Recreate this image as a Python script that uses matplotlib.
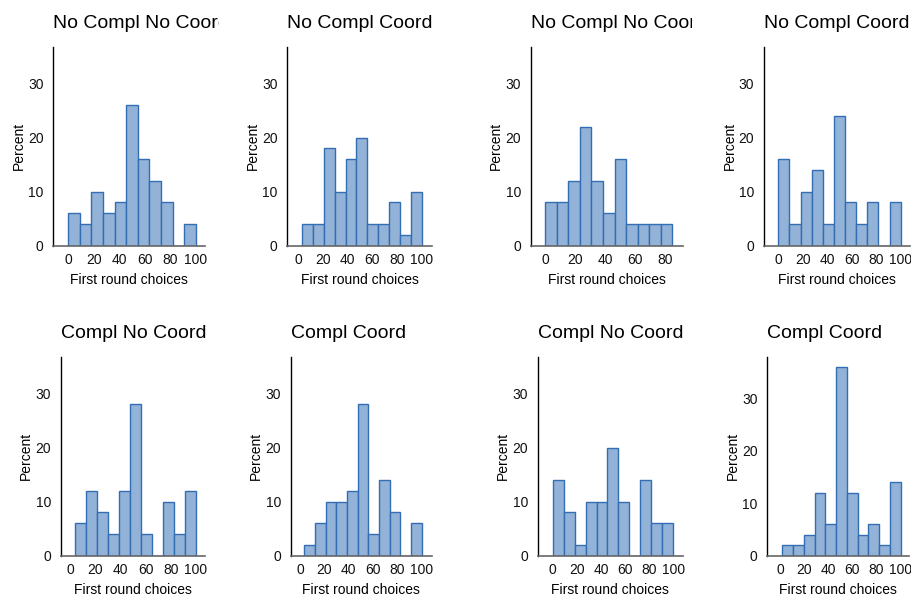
import numpy as np
import matplotlib
matplotlib.use("Agg")
import matplotlib.pyplot as plt
from matplotlib.transforms import Bbox

plt.rcParams["font.family"] = ["Liberation Sans", "DejaVu Sans"]

W, H = 912, 596

titles = ["No Compl No Coord", "No Compl Coord", "No Compl No Coord", "No Compl Coord",
          "Compl No Coord", "Compl Coord", "Compl No Coord", "Compl Coord"]

# percent of first round choices in each of 11 bins
pct_1 = [6, 4, 10, 6, 8, 26, 16, 12, 8, 0, 4]
pct_2 = [4, 4, 18, 10, 16, 20, 4, 4, 8, 2, 10]
pct_3 = [8, 8, 12, 22, 12, 6, 16, 4, 4, 4, 4]
pct_4 = [16, 4, 10, 14, 4, 24, 8, 4, 8, 0, 8]
pct_5 = [6, 12, 8, 4, 12, 28, 4, 0, 10, 4, 12]
pct_6 = [2, 6, 10, 10, 12, 28, 4, 14, 8, 0, 6]
pct_7 = [14, 8, 2, 10, 10, 20, 10, 0, 14, 6, 6]
pct_8 = [2, 2, 4, 12, 6, 36, 12, 4, 6, 2, 14]
percents = [pct_1, pct_2, pct_3, pct_4, pct_5, pct_6, pct_7, pct_8]

# smallest and largest choice in each group (histogram range)
range_lo = [0, 3, 0, 0, 4, 3.5, 0, 2]
range_hi = [100, 100, 85, 100, 100, 100, 100, 100]

xticks_full = [0, 20, 40, 60, 80, 100]
xticks_short = [0, 20, 40, 60, 80]
yticks = [0, 10, 20, 30]

# layout in pixels: (left, right) of each plot, rows (top, bottom)
cols_px = [(53.3, 205), (287.3, 431.7), (530.7, 682.7), (764, 910),
           (60.7, 205), (290.7, 431.7), (537.7, 682.7), (767.3, 909.3)]
rows_px = [(46.7, 245.7), (356.7, 555.7)]
xlims = [(-11.8, 107.3), (-8.9, 108.1), (-9.5, 91.8), (-11.7, 107.6),
         (-7.4, 107.1), (-7.6, 108.2), (-12.4, 107.8), (-10.5, 107.1)]
ylims = [36.8] * 7 + [37.9]
# horizontal extent of each panel's drawing area (titles are clipped to it)
panel_clip = [(0, 219), (225, 458), (460, 692), (692, 912)] * 2

fill = "#92b2d7"
edge = "#336db4"

fig = plt.figure(figsize=(W / 100, H / 100), dpi=100)

for i in range(8):
    r = i // 4
    l, rr = cols_px[i]
    t, b = rows_px[r]
    ax = fig.add_axes([l / W, 1 - b / H, (rr - l) / W, (b - t) / H])
    edges = np.linspace(range_lo[i], range_hi[i], len(percents[i]) + 1)
    ax.bar(edges[:-1], percents[i], width=np.diff(edges), align="edge",
           color=fill, edgecolor=edge, linewidth=1.0)
    ax.set_xlim(*xlims[i])
    ax.set_ylim(0, ylims[i])
    ax.set_xticks(xticks_short if i == 2 else xticks_full)
    ax.set_yticks(yticks)
    ax.tick_params(axis="both", length=0, labelsize=10, colors="#111111")
    ax.tick_params(axis="x", pad=5.5)
    ax.tick_params(axis="y", pad=7)
    for s in ("top", "right"):
        ax.spines[s].set_visible(False)
    ax.spines["left"].set_color("black")
    ax.spines["left"].set_linewidth(1.0)
    ax.spines["bottom"].set_color("#666666")
    ax.spines["bottom"].set_linewidth(1.2)
    ax.set_xlabel("First round choices", fontsize=10, labelpad=4)
    ax.set_ylabel("Percent", fontsize=10, labelpad=1.5)
    title = ax.set_title(titles[i], loc="left", fontsize=14, pad=13.2)
    cl, cr = panel_clip[i]
    title.set_clip_box(Bbox([[cl, 0], [cr, H]]))
    title.set_clip_on(True)

fig.savefig("out.png", dpi=100)
